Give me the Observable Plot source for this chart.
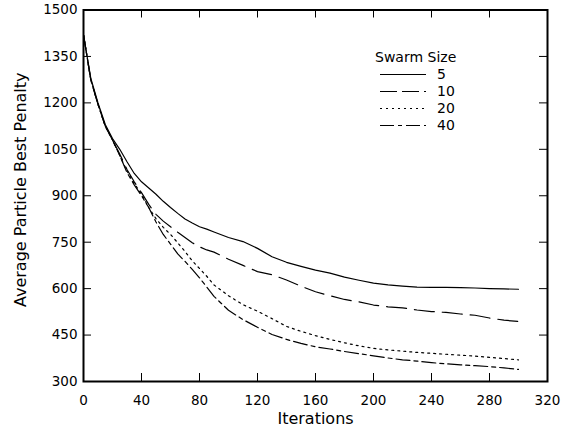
<!DOCTYPE html>
<html><head><meta charset="utf-8">
<script src="https://cdn.jsdelivr.net/npm/d3@7"></script>
<script src="https://cdn.jsdelivr.net/npm/@observablehq/plot@0.6"></script>
<style>
body{margin:0;background:#fff;font-family:"DejaVu Sans",Verdana,sans-serif;}
#wrap{position:relative;width:572px;height:434px;}
#legend{position:absolute;left:375px;top:49px;font-size:14px;color:#000;line-height:17px;}
#legend .row{display:flex;align-items:center;height:17px;}
#legend .row svg{margin-left:5px;margin-right:11px;}
</style></head><body><div id="wrap"></div>
<script>
const iterations = [0,5,10,15,20,25,30,35,40,45,50,55,60,65,70,75,80,85,90,100,110,120,130,140,150,160,170,180,190,200,210,220,230,240,250,260,270,280,290,300];
const size5  = [1420,1280,1200,1130,1085,1050,1010,972,945,925,905,882,862,843,825,812,800,792,783,765,752,730,703,685,672,660,650,637,627,618,612,608,605,604,604,603,602,600,599,598];
const size10 = [1420,1275,1195,1125,1080,1035,985,945,910,872,840,818,800,782,765,748,735,725,718,695,675,655,645,628,608,590,577,565,557,547,541,538,531,526,523,518,514,505,498,494];
const size20 = [1420,1275,1195,1125,1080,1030,980,940,905,862,826,798,775,748,720,690,665,640,612,577,548,527,503,478,462,448,436,425,415,407,402,398,394,391,388,385,382,378,374,370];
const size40 = [1420,1275,1195,1125,1080,1030,975,935,900,862,815,775,744,712,688,662,635,605,575,530,500,475,452,436,423,412,405,397,390,383,376,370,366,361,357,354,351,348,344,339];
const seriesNames = ["5","10","20","40"];
const dashes = [null, "20 8", "2 4", "14 4 4 4"];
const xTicks = [0,40,80,120,160,200,240,280,320];
const yTicks = [300,450,600,750,900,1050,1200,1350,1500];
const xLabel = "Iterations";
const yLabel = "Average Particle Best Penalty";
const legendTitle = "Swarm Size";

const allSeries = [size5, size10, size20, size40];
const W = 572, H = 434, mL = 83, mR = 25, mT = 9.5, mB = 53;
const plotH = H - mT - mB, plotW = W - mL - mR;
const tickLen = 8;

const lineMarks = allSeries.map((vals, i) => {
  const rows = iterations.map((x, j) => ({x, y: vals[j]}));
  return Plot.line(rows, {x: "x", y: "y", stroke: "#000", strokeWidth: 1.2, strokeDasharray: dashes[i] || undefined});
});

const chart = Plot.plot({
  width: W, height: H,
  marginLeft: mL, marginRight: mR, marginTop: mT, marginBottom: mB,
  style: {fontFamily: "'DejaVu Sans', Verdana, sans-serif", fontSize: "13.5px", color: "#000", background: "#fff"},
  x: {domain: [0, 320]},
  y: {domain: [300, 1500]},
  marks: [
    ...lineMarks,
    Plot.tickX(xTicks, {x: d => d, insetTop: plotH - tickLen, stroke: "#000", strokeWidth: 1}),
    Plot.tickX(xTicks, {x: d => d, insetBottom: plotH - tickLen, stroke: "#000", strokeWidth: 1}),
    Plot.tickY(yTicks, {y: d => d, insetRight: plotW - tickLen, stroke: "#000", strokeWidth: 1}),
    Plot.tickY(yTicks, {y: d => d, insetLeft: plotW - tickLen, stroke: "#000", strokeWidth: 1}),
    Plot.axisX(xTicks, {tickSize: 0, tickPadding: 14, label: null, tickFormat: "d"}),
    Plot.axisY(yTicks, {tickSize: 0, tickPadding: 6, label: null, tickFormat: "d"}),
    Plot.text([xLabel], {frameAnchor: "bottom", textAnchor: "middle", lineAnchor: "middle", dy: 37, fontSize: 16, fill: "#000"}),
    Plot.text([yLabel], {frameAnchor: "left", textAnchor: "middle", lineAnchor: "middle", dx: -63, dy: -6, rotate: -90, fontSize: 16, fill: "#000"}),
    Plot.frame({stroke: "#000", strokeWidth: 2})
  ]
});
const wrap = document.getElementById("wrap");
wrap.appendChild(chart);

const legend = document.createElement("div");
legend.id = "legend";
const t = document.createElement("div");
t.textContent = legendTitle;
legend.appendChild(t);
seriesNames.forEach((name, i) => {
  const row = document.createElement("div");
  row.className = "row";
  const svg = d3.create("svg").attr("width", 46).attr("height", 17);
  svg.append("line").attr("x1", 0).attr("x2", 46).attr("y1", 8.5).attr("y2", 8.5)
    .attr("stroke", "#000").attr("stroke-width", 1.2)
    .attr("stroke-dasharray", dashes[i] === "20 8" ? "17 5" : dashes[i]);
  row.appendChild(svg.node());
  const s = document.createElement("span");
  s.textContent = name;
  row.appendChild(s);
  legend.appendChild(row);
});
wrap.appendChild(legend);
</script></body></html>
